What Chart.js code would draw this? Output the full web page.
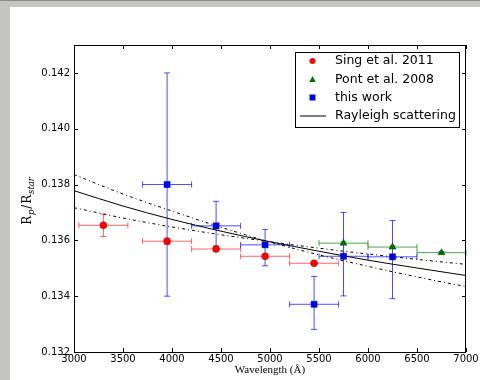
<!DOCTYPE html>
<html lang="en">
  <head>
    <meta charset="UTF-8" />
    <title>Rp/Rstar vs wavelength</title>
    <script src="https://cdn.jsdelivr.net/npm/chart.js"></script>
    <style>
      body { margin: 0; background: #fff; }
      canvas { display: block; }
    </style>
  </head>
  <body>
    <canvas id="myChart" width="480" height="380"></canvas>

    <script>
      // tick labels
      const xTicks = [3000, 3500, 4000, 4500, 5000, 5500, 6000, 6500, 7000];
      const yTicks = [0.132, 0.134, 0.136, 0.138, 0.140, 0.142];

      // Sing et al. 2011
      const singX = [3300, 3950, 4450, 4950, 5450];
      const singY = [0.13654, 0.13597, 0.13569, 0.13543, 0.13518];
      const singErrY = [0.0004, 0.00011, 0.00007, 0.00006, 0.00003];
      const singErrX = [250, 250, 250, 250, 250];

      // Pont et al. 2008
      const pontX = [5750, 6250, 6750];
      const pontY = [0.1359, 0.13576, 0.13556];
      const pontErrY = [0.00005, 0.00005, 0.00004];
      const pontErrX = [250, 250, 250];

      // this work
      const workX = [3950, 4450, 4950, 5450, 5750, 6250];
      const workY = [0.138, 0.13652, 0.13584, 0.13371, 0.13543, 0.13541];
      const workErrUp = [0.004, 0.00088, 0.00055, 0.001, 0.00157, 0.0013];
      const workErrDown = [0.004, 0.00072, 0.00075, 0.0009, 0.00142, 0.0015];
      const workErrX = [250, 250, 250, 250, 250, 250];

      // Rayleigh scattering curves
      const modelX = [3000, 3500, 4000, 4500, 5000, 5500, 6000, 6500, 7000];
      const rayleigh = [0.13778, 0.13723, 0.13675, 0.13633, 0.13595, 0.13561, 0.13529, 0.13501, 0.13474];
      const rayleighSteep = [0.13836, 0.13766, 0.13705, 0.13647, 0.13594, 0.13548, 0.13507, 0.13469, 0.13434];
      const rayleighFlat = [0.13717, 0.1368, 0.13648, 0.1362, 0.13595, 0.13572, 0.13551, 0.13532, 0.13514];

      const toPts = (xs, ys) => xs.map((x, i) => ({ x: x, y: ys[i] }));

      const errSets = [
        { xs: singX, ys: singY, up: singErrY, down: singErrY, ex: singErrX, color: "rgba(255, 0, 0, 0.6)" },
        { xs: pontX, ys: pontY, up: pontErrY, down: pontErrY, ex: pontErrX, color: "rgba(0, 128, 0, 0.7)" },
        { xs: workX, ys: workY, up: workErrUp, down: workErrDown, ex: workErrX, color: "rgba(0, 0, 255, 0.7)" },
      ];

      // page background (grey window edge) + frame
      const background = {
        id: "background",
        beforeDraw(chart) {
          const c = chart.ctx;
          c.save();
          c.fillStyle = "#c4c4c0";
          c.fillRect(0, 0, 480, 7);
          c.fillRect(0, 0, 10, 380);
          c.fillStyle = "#8a8a88";
          c.fillRect(0, 0, 480, 1);
          c.restore();
        },
      };

      // error bars with caps
      const errorBars = {
        id: "errorBars",
        beforeDatasetsDraw(chart) {
          const c = chart.ctx;
          const xs = chart.scales.x, ys = chart.scales.y;
          const cap = 3;
          c.save();
          c.lineWidth = 1;
          errSets.forEach((s) => {
            c.strokeStyle = s.color;
            s.xs.forEach((x, i) => {
              const px = xs.getPixelForValue(x);
              const py = ys.getPixelForValue(s.ys[i]);
              const x0 = xs.getPixelForValue(x - s.ex[i]);
              const x1 = xs.getPixelForValue(x + s.ex[i]);
              const y0 = ys.getPixelForValue(s.ys[i] + s.up[i]);
              const y1 = ys.getPixelForValue(s.ys[i] - s.down[i]);
              c.beginPath();
              c.moveTo(x0, py); c.lineTo(x1, py);
              c.moveTo(x0, py - cap); c.lineTo(x0, py + cap);
              c.moveTo(x1, py - cap); c.lineTo(x1, py + cap);
              c.moveTo(px, y0); c.lineTo(px, y1);
              c.moveTo(px - cap, y0); c.lineTo(px + cap, y0);
              c.moveTo(px - cap, y1); c.lineTo(px + cap, y1);
              c.stroke();
            });
          });
          c.restore();
        },
      };

      // frame, inward ticks, axis titles, legend
      const decorations = {
        id: "decorations",
        afterDraw(chart) {
          const c = chart.ctx;
          const a = chart.chartArea;
          const xs = chart.scales.x, ys = chart.scales.y;
          const tl = 4;
          c.save();
          c.strokeStyle = "#000";
          c.lineWidth = 1;
          c.beginPath();
          xTicks.forEach((v) => {
            const p = Math.round(xs.getPixelForValue(v)) + 0.5;
            c.moveTo(p, a.bottom); c.lineTo(p, a.bottom - tl);
            c.moveTo(p, a.top); c.lineTo(p, a.top + tl);
          });
          yTicks.forEach((v) => {
            const p = Math.round(ys.getPixelForValue(v)) + 0.5;
            c.moveTo(a.left, p); c.lineTo(a.left + tl, p);
            c.moveTo(a.right, p); c.lineTo(a.right - tl, p);
          });
          c.stroke();
          c.strokeRect(a.left + 0.5, a.top + 0.5, a.right - a.left - 1, a.bottom - a.top);

          // x title
          c.fillStyle = "#000";
          c.font = "11px 'Liberation Serif'";
          c.textAlign = "center";
          c.textBaseline = "middle";
          c.fillText("Wavelength (Å)", (a.left + a.right) / 2, 370);

          // y title: R_p / R_star
          const big = "12px 'DejaVu Serif'";
          const small = "italic 8.5px 'DejaVu Serif'";
          const parts = [
            { t: "R", f: big, dy: 0 },
            { t: "p", f: small, dy: 3 },
            { t: "/", f: big, dy: 0 },
            { t: "R", f: big, dy: 0 },
            { t: "star", f: small, dy: 3 },
          ];
          let total = 0;
          parts.forEach((p) => { c.font = p.f; p.w = c.measureText(p.t).width + 0.8; total += p.w; });
          c.translate(27, (a.top + a.bottom) / 2 + 2);
          c.rotate(-Math.PI / 2);
          c.textAlign = "left";
          c.textBaseline = "alphabetic";
          let cx = -total / 2;
          parts.forEach((p) => { c.font = p.f; c.fillText(p.t, cx, 3.5 + p.dy); cx += p.w; });
          c.setTransform(1, 0, 0, 1, 0, 0);

          // legend
          const lx = 295, ly = 52, lw = 164, lh = 75;
          c.fillStyle = "#fff";
          c.fillRect(lx, ly, lw, lh);
          c.strokeRect(lx + 0.5, ly + 0.5, lw, lh);
          const rows = [61, 79.5, 97.5, 115.5];
          const mx = 312.5;
          c.fillStyle = "#ff0000";
          c.beginPath(); c.arc(mx, rows[0], 3, 0, Math.PI * 2); c.fill();
          c.fillStyle = "#007000";
          c.beginPath(); c.moveTo(mx, rows[1] - 3.5); c.lineTo(mx + 3.2, rows[1] + 2.5); c.lineTo(mx - 3.2, rows[1] + 2.5); c.closePath(); c.fill();
          c.fillStyle = "#0000ff";
          c.fillRect(mx - 3, rows[2] - 3, 6, 6);
          c.beginPath(); c.moveTo(300, rows[3] + 0.5); c.lineTo(326, rows[3] + 0.5); c.stroke();
          c.fillStyle = "#000";
          c.font = "12.5px 'DejaVu Sans'";
          c.textBaseline = "middle";
          const names = ["Sing et al. 2011", "Pont et al. 2008", "this work", "Rayleigh scattering"];
          names.forEach((n, i) => c.fillText(n, 335, rows[i]));
          c.restore();
        },
      };

      const data = {
        datasets: [
          {
            label: "Sing et al. 2011",
            data: toPts(singX, singY),
            pointStyle: "circle",
            pointRadius: 3.5,
            backgroundColor: "#ff0000",
            borderColor: "#b00000",
            borderWidth: 0.5,
            order: 0,
          },
          {
            label: "Pont et al. 2008",
            data: toPts(pontX, pontY),
            pointStyle: "triangle",
            pointRadius: 4,
            backgroundColor: "#007000",
            borderColor: "#004000",
            borderWidth: 0.5,
            order: 0,
          },
          {
            label: "this work",
            data: toPts(workX, workY),
            pointStyle: "rect",
            pointRadius: 4.3,
            backgroundColor: "#0000ff",
            borderColor: "#000080",
            borderWidth: 0.5,
            order: 0,
          },
          {
            label: "Rayleigh scattering",
            data: toPts(modelX, rayleigh),
            showLine: true,
            borderColor: "#000",
            borderWidth: 1,
            pointRadius: 0,
            cubicInterpolationMode: "monotone",
            order: 1,
          },
          {
            label: "upper",
            data: toPts(modelX, rayleighSteep),
            showLine: true,
            borderColor: "#000",
            borderWidth: 1,
            borderDash: [3, 3, 1, 3],
            pointRadius: 0,
            cubicInterpolationMode: "monotone",
            order: 1,
          },
          {
            label: "lower",
            data: toPts(modelX, rayleighFlat),
            showLine: true,
            borderColor: "#000",
            borderWidth: 1,
            borderDash: [3, 3, 1, 3],
            pointRadius: 0,
            cubicInterpolationMode: "monotone",
            order: 1,
          },
        ],
      };

      const tickFont = { family: "'DejaVu Sans'", size: 10 };

      const config = {
        type: "scatter",
        data: data,
        options: {
          responsive: false,
          animation: false,
          devicePixelRatio: 1,
          layout: { padding: { top: 45, right: 14, left: 0, bottom: 0 } },
          plugins: { legend: { display: false }, tooltip: { enabled: false } },
          scales: {
            x: {
              type: "linear",
              min: 3000,
              max: 7000,
              afterBuildTicks: (s) => { s.ticks = xTicks.map((v) => ({ value: v })); },
              afterFit: (s) => { s.height = 28; },
              grid: { display: false, drawTicks: false },
              border: { display: false },
              ticks: { font: tickFont, color: "#000", padding: 1, maxRotation: 0, callback: (v) => String(v) },
            },
            y: {
              type: "linear",
              min: 0.132,
              max: 0.143,
              afterBuildTicks: (s) => { s.ticks = yTicks.map((v) => ({ value: v })); },
              afterFit: (s) => { s.width = 74; },
              grid: { display: false, drawTicks: false },
              border: { display: false },
              ticks: { font: tickFont, color: "#000", padding: 4, callback: (v) => v.toFixed(3) },
            },
          },
        },
        plugins: [background, errorBars, decorations],
      };

      const myChart = new Chart(document.getElementById("myChart"), config);
    </script>
  </body>
</html>
